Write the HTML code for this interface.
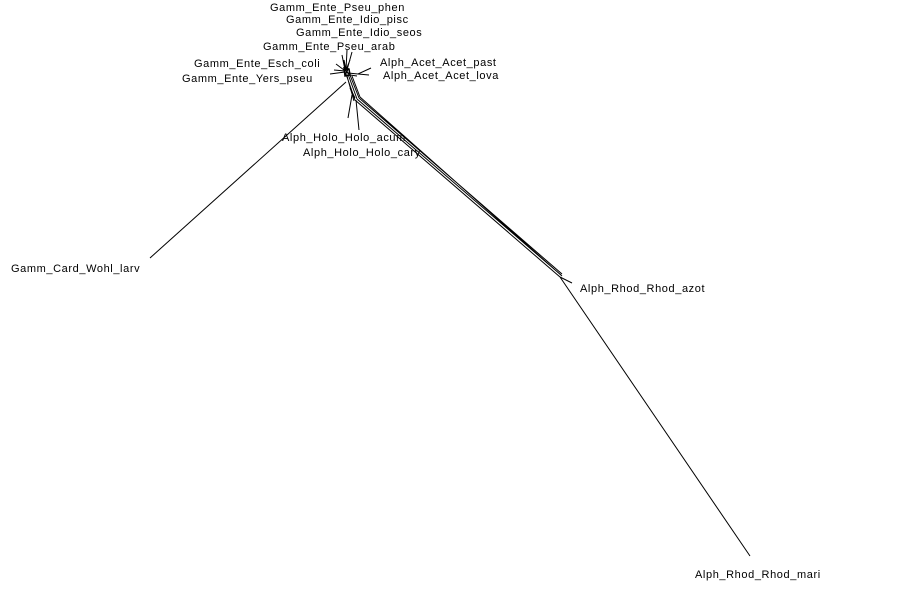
<!DOCTYPE html>
<html><head><meta charset="utf-8"><style>
html,body{margin:0;padding:0;background:#fff;}
svg{display:block;}
text{font-family:"Liberation Sans","DejaVu Sans",sans-serif;font-size:11px;fill:#000;letter-spacing:0.6px;}
</style></head><body>
<svg width="900" height="606" viewBox="0 0 900 606" xmlns="http://www.w3.org/2000/svg">
<g stroke="#000" stroke-width="1" fill="none">
<path d="M346 70 L347 50 M345 70 L342 55 M347 70 L352 52 M346 70 L344 60 M346 70 L350 60"/>
<path d="M345 71 L334 70 M345 72 L330 74 M344 70 L336 64"/>
<path d="M344 68 L349 69 L350 75 L345 76 Z M345 70 L349 74 M348 69 L345 75" stroke-width="1.5"/>
<path d="M348 73 L358 74 L371 68 M358 74 L369 75 M350 75 L357 76"/>
<path d="M346 74 L355 100 M348 74 L357 99 M350 75 L359 98 M352 76 L360 97 M347 76 L354 101"/>
<path d="M355 100 L560 277 M357 99 L561 275 M359 98 L562 274 M360 97 L562 276"/>
<path d="M352 95 L348 118 M356 100 L359 130 M350 88 L355 98"/>
<path d="M346 82 L150 258"/>
<path d="M560 277 L572 283 M560 277 L750 556"/>
</g>
<text x="270" y="11">Gamm_Ente_Pseu_phen</text>
<text x="286" y="23">Gamm_Ente_Idio_pisc</text>
<text x="296" y="36">Gamm_Ente_Idio_seos</text>
<text x="263" y="50">Gamm_Ente_Pseu_arab</text>
<text x="194" y="67">Gamm_Ente_Esch_coli</text>
<text x="182" y="82">Gamm_Ente_Yers_pseu</text>
<text x="380" y="66">Alph_Acet_Acet_past</text>
<text x="383" y="79">Alph_Acet_Acet_lova</text>
<text x="282" y="141">Alph_Holo_Holo_acum</text>
<text x="303" y="156">Alph_Holo_Holo_cary</text>
<text x="11" y="272">Gamm_Card_Wohl_larv</text>
<text x="580" y="292">Alph_Rhod_Rhod_azot</text>
<text x="695" y="578">Alph_Rhod_Rhod_mari</text>
</svg>
</body></html>
